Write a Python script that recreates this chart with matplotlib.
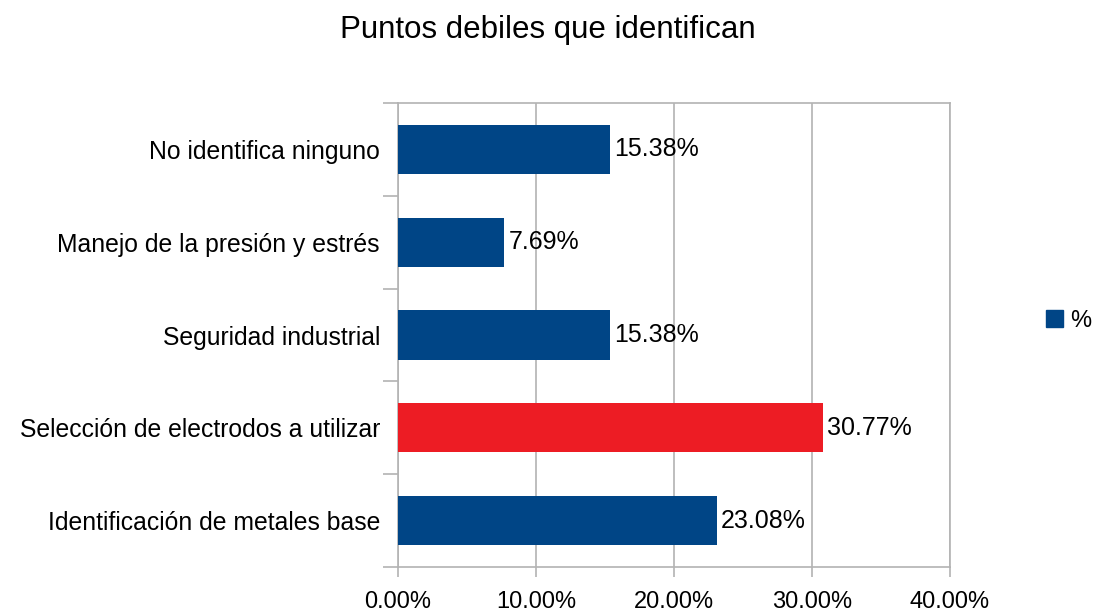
import matplotlib
matplotlib.use('Agg')
import matplotlib.pyplot as plt
from matplotlib.patches import Patch

categories = ['Identificación de metales base', 'Selección de electrodos a utilizar',
              'Seguridad industrial', 'Manejo de la presión y estrés', 'No identifica ninguno']
values = [23.08, 30.77, 15.38, 7.69, 15.38]
colors = ['#004586', '#ED1C24', '#004586', '#004586', '#004586']
xticks = [0, 10, 20, 30, 40]

plt.rcParams['font.family'] = ['Liberation Sans', 'DejaVu Sans']

fig = plt.figure(figsize=(10.95, 6.14), dpi=100)
ax = fig.add_axes([0.3635, 0.0765, 0.8676 - 0.3635, 0.8322 - 0.0765])
fig.suptitle('Puntos debiles que identifican', fontsize=22.5, y=0.975)

pos = range(len(categories))
ax.barh(pos, values, height=0.53, color=colors, zorder=3)
for p, v in zip(pos, values):
    ax.text(v + 0.3, p, '%.2f%%' % v, va='center', ha='left', fontsize=18, zorder=4)

ax.set_xlim(0, 40)
ax.set_ylim(-0.5, len(categories) - 0.5)
ax.set_xticks(xticks)
ax.set_xticklabels(['%.2f%%' % t for t in xticks], fontsize=17)
ax.set_yticks(list(pos))
ax.set_yticklabels(categories, fontsize=17.8)
ax.set_yticks([i - 0.5 for i in range(len(categories) + 1)], minor=True)
ax.tick_params(axis='y', which='major', length=0, pad=13)
ax.tick_params(axis='y', which='minor', length=11, color='#b3b3b3', width=1.2)
ax.tick_params(axis='x', length=7, color='#b3b3b3', width=1.2, pad=10)
ax.grid(axis='x', color='#b3b3b3', linewidth=1.2, zorder=0)
for s in ax.spines.values():
    s.set_color('#b3b3b3')
    s.set_linewidth(1.2)

fig.legend(handles=[Patch(color='#004586')], labels=['%'], loc='center left',
           bbox_to_anchor=(0.955, 0.478), frameon=False, fontsize=17,
           handlelength=0.75, handleheight=0.75, handletextpad=0.3,
           borderpad=0, borderaxespad=0)

fig.savefig('out.png', dpi=100)
